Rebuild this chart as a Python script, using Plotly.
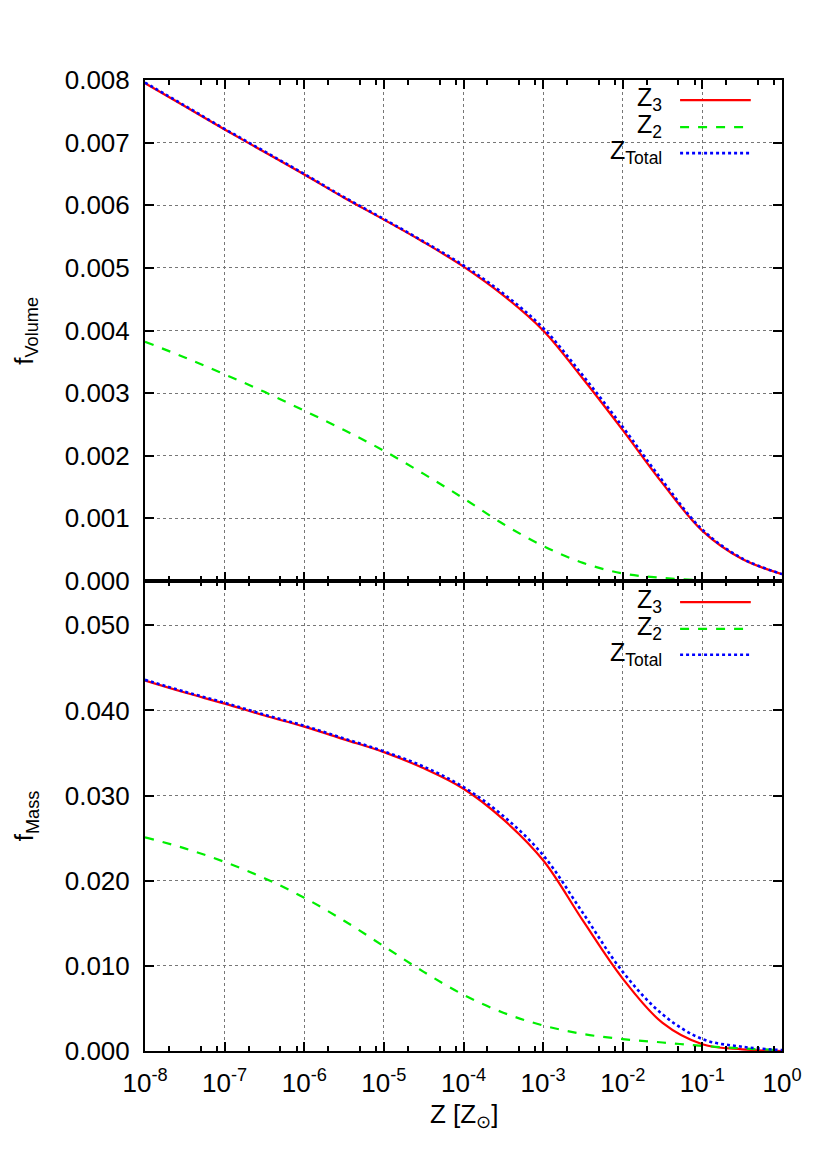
import plotly.graph_objects as go
from plotly.subplots import make_subplots

# log10(Z) sample positions (half decades)
logz = [-8.0, -7.5, -7.0, -6.5, -6.0, -5.5, -5.0, -4.5, -4.0, -3.5, -3.0, -2.5, -2.0, -1.5, -1.0, -0.5, 0.0]
z_vals = [10 ** v for v in logz]

# Top panel: f_Volume
vol_z3 = [0.00795, 0.00758, 0.00721, 0.00685, 0.00649, 0.00612, 0.00577, 0.00541, 0.00502,
          0.00456, 0.00400, 0.00323, 0.00241, 0.00156, 0.00080, 0.00035, 0.00011]
vol_z2 = [0.00382, 0.00357, 0.00330, 0.00302, 0.00272, 0.00241, 0.00208, 0.00171, 0.00132,
          0.00091, 0.00056, 0.00029, 0.00012, 0.00005, 0.00001, 0.00000, 0.00000]
vol_tot = [0.00796, 0.00759, 0.00722, 0.00686, 0.00650, 0.00613, 0.00578, 0.00542, 0.00504,
           0.00459, 0.00404, 0.00328, 0.00246, 0.00160, 0.00082, 0.00036, 0.00011]

# Bottom panel: f_Mass
mass_z3 = [0.0435, 0.0421, 0.0408, 0.0394, 0.0381, 0.0366, 0.0351, 0.0332, 0.0308,
           0.0272, 0.0224, 0.0153, 0.0085, 0.0033, 0.0008, 0.0002, 0.0000]
mass_z2 = [0.0251, 0.0238, 0.0222, 0.0203, 0.0180, 0.0153, 0.0123, 0.0093, 0.0066,
           0.0045, 0.0030, 0.0020, 0.0014, 0.0010, 0.0006, 0.0003, 0.0001]
mass_tot = [0.0436, 0.0422, 0.0409, 0.0395, 0.0382, 0.0367, 0.0352, 0.0334, 0.0310,
            0.0276, 0.0230, 0.0162, 0.0093, 0.0043, 0.0014, 0.0005, 0.0001]

series_names = ["Z<sub>3</sub>", "Z<sub>2</sub>", "Z<sub>Total</sub>"]
colors = ["#ff0000", "#00ee00", "#0000ff"]
dashes = ["solid", "dash", "dot"]
widths = [2.2, 2.2, 2.6]

vol_ticks = [0.000, 0.001, 0.002, 0.003, 0.004, 0.005, 0.006, 0.007, 0.008]
mass_ticks = [0.000, 0.010, 0.020, 0.030, 0.040, 0.050]
x_exps = list(range(-8, 1))
x_tickvals = [10 ** d for d in x_exps]
x_ticktext = ["10<sup>%d</sup>" % d for d in x_exps]
minor_x = [m * 10 ** d for d in range(-8, 0) for m in (2, 5, 8)]

FONT = "Liberation Sans, Arial, sans-serif"
FS = 26

fig = make_subplots(rows=2, cols=1, shared_xaxes=True, vertical_spacing=0,
                    row_heights=[501, 470])

for row, data in ((1, [vol_z3, vol_z2, vol_tot]), (2, [mass_z3, mass_z2, mass_tot])):
    for name, ys, c, d, w in zip(series_names, data, colors, dashes, widths):
        fig.add_trace(go.Scatter(x=z_vals, y=ys, mode="lines", name=name,
                                 line=dict(color=c, dash=d, width=w, shape="spline", smoothing=1.0),
                                 showlegend=False), row=row, col=1)

axis_common = dict(showline=True, linecolor="black", linewidth=2, mirror="allticks",
                   ticks="inside", ticklen=9, tickwidth=1.5, tickcolor="black",
                   showgrid=True, gridcolor="#777777", griddash="dot", gridwidth=1,
                   zeroline=False, tickfont=dict(family=FONT, size=FS, color="black"))

for r in (1, 2):
    fig.update_xaxes(type="log", range=[-8, 0], tickmode="array",
                     tickvals=x_tickvals, ticktext=x_ticktext,
                     minor=dict(tickvals=minor_x, ticks="inside", ticklen=5, tickwidth=1.5,
                                tickcolor="black", showgrid=False),
                     ticklabelstandoff=8,
                     **axis_common, row=r, col=1)
fig.update_xaxes(showticklabels=False, row=1, col=1)

fig.update_yaxes(range=[0, 0.008], tickmode="array", tickvals=vol_ticks, tickformat=".3f",
                 ticklabelstandoff=8, **axis_common, row=1, col=1)
fig.update_yaxes(range=[0, 0.0552], tickmode="array", tickvals=mass_ticks, tickformat=".3f",
                 ticklabelstandoff=8, **axis_common, row=2, col=1)

# Legend (gnuplot style: text right-aligned, sample to the right)
legend_rows = {
    1: ("x domain", "y domain", [0.960, 0.906, 0.854]),
    2: ("x2 domain", "y2 domain", [0.955, 0.898, 0.843]),
}
for r, (xr, yr, ypos) in legend_rows.items():
    for name, c, d, w, yy in zip(series_names, colors, dashes, widths, ypos):
        fig.add_shape(type="line", xref=xr, yref=yr, x0=0.840, x1=0.951, y0=yy, y1=yy,
                      line=dict(color=c, dash=d, width=w))
        fig.add_annotation(xref=xr, yref=yr, x=0.815, y=yy, text=name, showarrow=False,
                           xanchor="right", yanchor="middle", yshift=1,
                           font=dict(family=FONT, size=25, color="black"))

# Axis titles
fig.add_annotation(xref="paper", yref="paper", x=-0.188, y=0.742, text="f<sub>Volume</sub>",
                   textangle=-90, showarrow=False, xanchor="center", yanchor="middle",
                   font=dict(family=FONT, size=FS, color="black"))
fig.add_annotation(xref="paper", yref="paper", x=-0.188, y=0.242, text="f<sub>Mass</sub>",
                   textangle=-90, showarrow=False, xanchor="center", yanchor="middle",
                   font=dict(family=FONT, size=FS, color="black"))
fig.add_annotation(xref="paper", yref="paper", x=0.5, y=-0.066, text="Z [Z<sub>⊙</sub>]",
                   showarrow=False, xanchor="center", yanchor="middle",
                   font=dict(family=FONT, size=FS, color="black"))

# browser body adds an 8px offset; margins compensate so the plot area lands at 145..782 x 80..1051
fig.update_layout(width=830, height=1163, margin=dict(l=137, r=56, t=72, b=120),
                  paper_bgcolor="white", plot_bgcolor="white", showlegend=False,
                  font=dict(family=FONT, size=FS, color="black"))

fig.write_html("out.html")
